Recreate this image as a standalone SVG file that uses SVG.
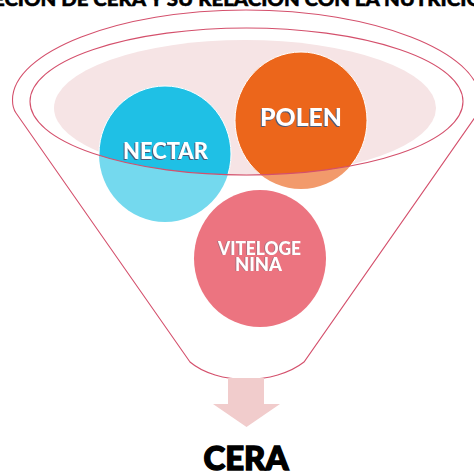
<svg xmlns="http://www.w3.org/2000/svg" width="474" height="474" viewBox="0 0 474 474">
<style>
.line{fill:none;stroke:#d4506c;stroke-width:1.1}
.lbl{font-family:"Lato","Liberation Sans",sans-serif;font-weight:900;fill:#fff;text-anchor:middle;filter:drop-shadow(-1px 1px 0 #4a5a78)}
.soft{filter:drop-shadow(-.6px .6px 0 #a9717f)}
.head{font-family:"Lato","Liberation Sans",sans-serif;font-weight:900;fill:#000;stroke:#000;text-anchor:middle}
</style>
<defs>
<clipPath id="inner"><ellipse cx="246.500" cy="101.500" rx="216.500" ry="73.500"/></clipPath>
</defs>
<rect width="474" height="474" fill="#fff"/>
<text class="head" x="238" y="6" font-size="19" stroke-width=".5" textLength="490" lengthAdjust="spacingAndGlyphs">ECION DE CERA Y SU RELACION CON LA NUTRICIO</text>
<ellipse cx="245" cy="108" rx="191" ry="68" fill="#f6e4e5"/>
<g id="nectar">
<ellipse cx="165" cy="154" rx="66" ry="68" fill="#74d9ee"/>
<ellipse cx="165" cy="154" rx="66" ry="68" fill="#1fc0e5" stroke="#fff" stroke-width="1" clip-path="url(#inner)"/>
<text class="lbl" x="165.500" y="159" font-size="22" textLength="85" lengthAdjust="spacingAndGlyphs">NECTAR</text>
</g>
<g id="polen">
<ellipse cx="301" cy="120.500" rx="66" ry="68.500" fill="#f29a6b"/>
<ellipse cx="301" cy="120.500" rx="66" ry="68.500" fill="#ec661b" stroke="#fff" stroke-width="1" clip-path="url(#inner)"/>
<text class="lbl" x="301" y="126" font-size="25" textLength="82" lengthAdjust="spacingAndGlyphs">POLEN</text>
</g>
<g id="vitelogenina">
<ellipse cx="260" cy="258.500" rx="66" ry="68.500" fill="#ec7480"/>
<text class="lbl soft" font-size="18"><tspan x="259.500" y="254.500" textLength="83" lengthAdjust="spacingAndGlyphs">VITELOGE</tspan><tspan x="258.500" y="271" textLength="47" lengthAdjust="spacingAndGlyphs">NINA</tspan></text>
</g>
<g id="funnel">
<ellipse cx="246.500" cy="101.500" rx="216.500" ry="73.500" class="line"/>
<path class="line" d="M190 362L16 113Q12.500 108 12.500 100C12.500 52 118 10 246 10C374 10 480 52 480 100Q480 108 478 113L304 362C275 385 217 385 190 362Z"/>
</g>
<g id="connectors"><path d="M228 378H264V404H280L246.500 427L213 404H228Z" fill="#f1cccc"/></g>
<text class="head" x="246" y="470" font-size="33" stroke-width="1.4" textLength="85" lengthAdjust="spacingAndGlyphs">CERA</text>
</svg>
